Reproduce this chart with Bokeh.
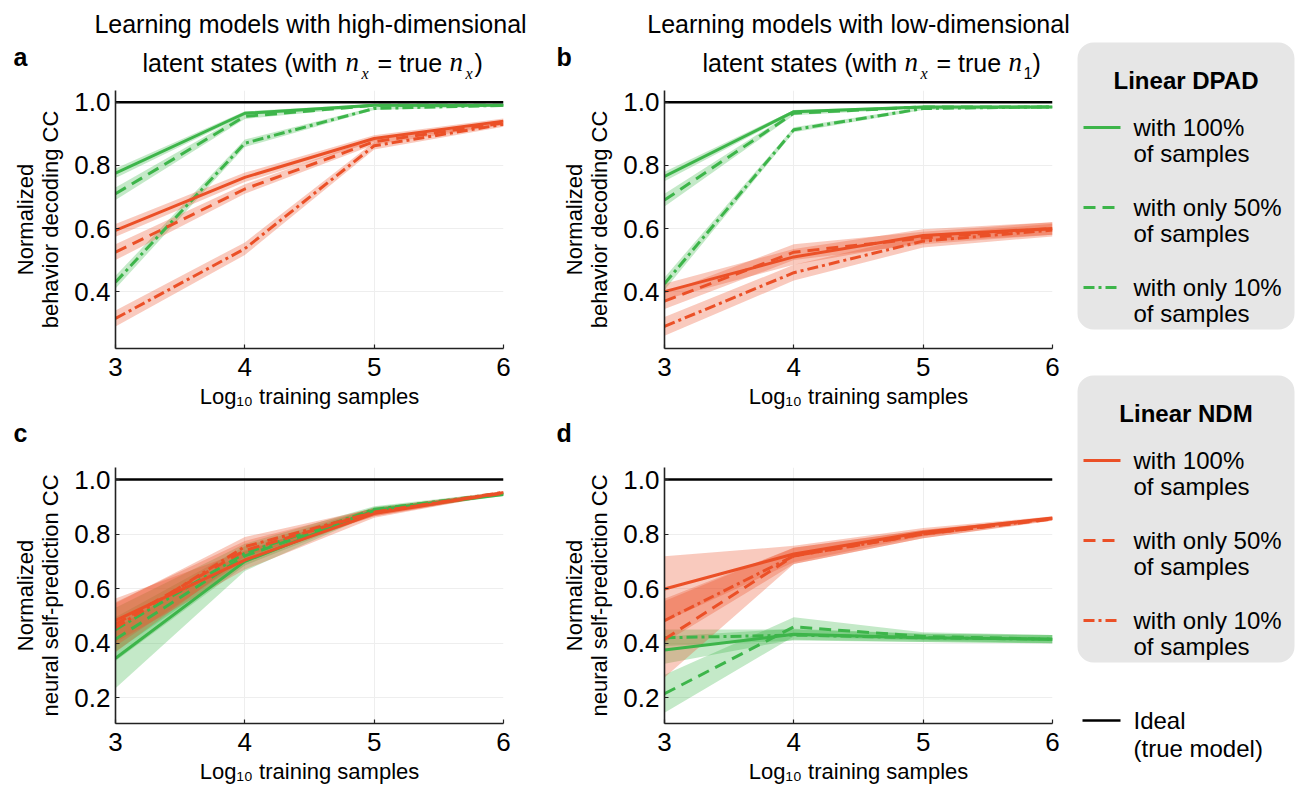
from bokeh.plotting import figure
from bokeh.layouts import row, column
from bokeh.models import Range1d, FixedTicker, NumeralTickFormatter
from bokeh.core.properties import value
from bokeh.embed import file_html
from bokeh.resources import INLINE

# ---------------- data ----------------
log10_samples = [3, 4, 5, 6]
ideal_cc = 1.0
fraction_labels = ["with 100%", "with only 50%", "with only 10%"]

# (a) behavior decoding, models with high-dimensional latent states
a_dpad_100 = [0.775, 0.965, 0.990, 0.990]
a_dpad_50 = [0.710, 0.955, 0.990, 0.990]
a_dpad_10 = [0.430, 0.870, 0.980, 0.990]
a_ndm_100 = [0.594, 0.762, 0.885, 0.940]
a_ndm_50 = [0.525, 0.725, 0.875, 0.935]
a_ndm_10 = [0.315, 0.536, 0.862, 0.930]
a_dpad_100_sem = [0.015, 0.006, 0.004, 0.004]
a_dpad_50_sem = [0.020, 0.008, 0.004, 0.004]
a_dpad_10_sem = [0.020, 0.012, 0.005, 0.004]
a_ndm_100_sem = [0.020, 0.015, 0.010, 0.008]
a_ndm_50_sem = [0.025, 0.015, 0.010, 0.008]
a_ndm_10_sem = [0.025, 0.020, 0.012, 0.008]

# (b) behavior decoding, models with low-dimensional latent states
b_dpad_100 = [0.765, 0.970, 0.985, 0.985]
b_dpad_50 = [0.690, 0.965, 0.985, 0.985]
b_dpad_10 = [0.425, 0.913, 0.980, 0.985]
b_ndm_100 = [0.400, 0.510, 0.578, 0.600]
b_ndm_50 = [0.370, 0.525, 0.570, 0.600]
b_ndm_10 = [0.290, 0.460, 0.560, 0.595]
b_dpad_100_sem = [0.015, 0.005, 0.004, 0.004]
b_dpad_50_sem = [0.020, 0.006, 0.004, 0.004]
b_dpad_10_sem = [0.020, 0.008, 0.005, 0.004]
b_ndm_100_sem = [0.025, 0.025, 0.020, 0.020]
b_ndm_50_sem = [0.025, 0.025, 0.020, 0.020]
b_ndm_10_sem = [0.030, 0.025, 0.020, 0.020]

# (c) neural self-prediction, high-dimensional latent states
c_dpad_100 = [0.345, 0.700, 0.887, 0.945]
c_dpad_50 = [0.415, 0.720, 0.885, 0.948]
c_dpad_10 = [0.450, 0.730, 0.890, 0.950]
c_ndm_100 = [0.484, 0.705, 0.875, 0.952]
c_ndm_50 = [0.470, 0.740, 0.880, 0.950]
c_ndm_10 = [0.457, 0.754, 0.880, 0.953]
c_dpad_100_sem = [0.110, 0.035, 0.012, 0.005]
c_dpad_50_sem = [0.080, 0.035, 0.012, 0.005]
c_dpad_10_sem = [0.080, 0.035, 0.012, 0.005]
c_ndm_100_sem = [0.080, 0.035, 0.015, 0.005]
c_ndm_50_sem = [0.080, 0.035, 0.015, 0.005]
c_ndm_10_sem = [0.090, 0.035, 0.015, 0.005]

# (d) neural self-prediction, low-dimensional latent states
d_dpad_100 = [0.375, 0.433, 0.420, 0.415]
d_dpad_50 = [0.215, 0.460, 0.425, 0.415]
d_dpad_10 = [0.420, 0.430, 0.420, 0.415]
d_ndm_100 = [0.599, 0.727, 0.807, 0.859]
d_ndm_50 = [0.415, 0.720, 0.800, 0.855]
d_ndm_10 = [0.483, 0.720, 0.800, 0.857]
d_dpad_100_sem = [0.050, 0.020, 0.015, 0.015]
d_dpad_50_sem = [0.070, 0.035, 0.015, 0.015]
d_dpad_10_sem = [0.030, 0.020, 0.015, 0.015]
d_ndm_100_sem = [0.120, 0.030, 0.015, 0.006]
d_ndm_50_sem = [0.140, 0.030, 0.015, 0.006]
d_ndm_10_sem = [0.080, 0.030, 0.015, 0.006]

x_ticks = [3, 4, 5, 6]
y_ticks_behavior = [0.4, 0.6, 0.8, 1.0]
y_ticks_neural = [0.2, 0.4, 0.6, 0.8, 1.0]

# ---------------- style ----------------
GREEN = "#3db54a"
RED = "#eb5027"
DASHES = ["solid", "12 7", "11 4 3 4"]
SANS = "Liberation Sans"
SERIF = "Liberation Serif"

PAGE_W, PAGE_H = 1299, 787
LEFT_W = 550
PANELS_W = 1072
RIGHT_W = PANELS_W - LEFT_W
LEG_W = PAGE_W - PANELS_W
HEAD_H = 86            # heading strip above the top panels
TOP_Y0, TOP_Y1 = HEAD_H, 418
MID_Y0, MID_Y1 = 418, 452
BOT_Y0, BOT_Y1 = 452, 787

panels = {
    "a": dict(dpad=[(a_dpad_100, a_dpad_100_sem), (a_dpad_50, a_dpad_50_sem), (a_dpad_10, a_dpad_10_sem)],
              ndm=[(a_ndm_100, a_ndm_100_sem), (a_ndm_50, a_ndm_50_sem), (a_ndm_10, a_ndm_10_sem)]),
    "b": dict(dpad=[(b_dpad_100, b_dpad_100_sem), (b_dpad_50, b_dpad_50_sem), (b_dpad_10, b_dpad_10_sem)],
              ndm=[(b_ndm_100, b_ndm_100_sem), (b_ndm_50, b_ndm_50_sem), (b_ndm_10, b_ndm_10_sem)]),
    "c": dict(dpad=[(c_dpad_100, c_dpad_100_sem), (c_dpad_50, c_dpad_50_sem), (c_dpad_10, c_dpad_10_sem)],
              ndm=[(c_ndm_100, c_ndm_100_sem), (c_ndm_50, c_ndm_50_sem), (c_ndm_10, c_ndm_10_sem)]),
    "d": dict(dpad=[(d_dpad_100, d_dpad_100_sem), (d_dpad_50, d_dpad_50_sem), (d_dpad_10, d_dpad_10_sem)],
              ndm=[(d_ndm_100, d_ndm_100_sem), (d_ndm_50, d_ndm_50_sem), (d_ndm_10, d_ndm_10_sem)]),
}

# page-space plot frames (left, right, top, bottom) and figure boxes
layout_spec = {
    "a": dict(frame=(115, 503, 90, 348), origin=(0, TOP_Y0), size=(LEFT_W, TOP_Y1 - TOP_Y0),
              yr=(0.22, 1.037), yticks=y_ticks_behavior, ylabel="Normalized\nbehavior decoding CC"),
    "b": dict(frame=(664, 1052, 90, 348), origin=(LEFT_W, TOP_Y0), size=(RIGHT_W, TOP_Y1 - TOP_Y0),
              yr=(0.22, 1.037), yticks=y_ticks_behavior, ylabel="Normalized\nbehavior decoding CC"),
    "c": dict(frame=(115, 503, 467, 723), origin=(0, BOT_Y0), size=(LEFT_W, BOT_Y1 - BOT_Y0),
              yr=(0.106, 1.044), yticks=y_ticks_neural, ylabel="Normalized\nneural self-prediction CC"),
    "d": dict(frame=(664, 1052, 467, 723), origin=(LEFT_W, BOT_Y0), size=(RIGHT_W, BOT_Y1 - BOT_Y0),
              yr=(0.106, 1.044), yticks=y_ticks_neural, ylabel="Normalized\nneural self-prediction CC"),
}

XR = (3, 6)


def make_panel(key):
    spec = layout_spec[key]
    fx0, fx1, fy0, fy1 = spec["frame"]
    ox, oy = spec["origin"]
    w, h = spec["size"]
    p = figure(width=w, height=h, output_backend="svg", toolbar_location=None,
               x_range=Range1d(*XR), y_range=Range1d(*spec["yr"]))
    p.min_border_left = fx0 - ox
    p.min_border_right = ox + w - fx1
    p.min_border_top = fy0 - oy
    p.min_border_bottom = oy + h - fy1
    p.outline_line_color = None
    p.background_fill_color = "white"
    p.border_fill_color = "white"

    for ax in (p.xaxis[0], p.yaxis[0]):
        ax.axis_line_color = "#222222"
        ax.axis_line_width = 1.6
        ax.major_tick_in = 4
        ax.major_tick_out = 0
        ax.major_tick_line_color = "#222222"
        ax.major_tick_line_width = 1.2
        ax.minor_tick_line_color = None
        ax.major_label_text_font = SANS
        ax.major_label_text_font_size = "26px"
        ax.major_label_text_color = "black"
        ax.axis_label_text_font = SANS
        ax.axis_label_text_font_size = "22px"
        ax.axis_label_text_font_style = "normal"
        ax.axis_label_text_color = "black"
    p.yaxis.axis_label_text_line_height = 1.0
    p.xaxis.ticker = FixedTicker(ticks=x_ticks)
    p.yaxis.ticker = FixedTicker(ticks=spec["yticks"])
    p.yaxis.formatter = NumeralTickFormatter(format="0.0")
    p.xaxis.axis_label = "Log\u2081\u2080 training samples"
    p.yaxis.axis_label = spec["ylabel"]
    p.xaxis.major_label_standoff = 9
    p.xaxis.axis_label_standoff = 5
    p.yaxis.major_label_standoff = 5
    p.yaxis.axis_label_standoff = 8
    p.xgrid.ticker = FixedTicker(ticks=x_ticks)
    p.ygrid.ticker = FixedTicker(ticks=spec["yticks"])
    p.grid.grid_line_color = "#eeeeee"
    p.grid.grid_line_width = 1

    groups = panels[key]
    # shaded uncertainty bands first
    for model, color in (("dpad", GREEN), ("ndm", RED)):
        for mean, sem in groups[model]:
            lo = [m - s for m, s in zip(mean, sem)]
            hi = [m + s for m, s in zip(mean, sem)]
            p.varea(x=log10_samples, y1=lo, y2=hi, fill_color=color, fill_alpha=0.3)
    # mean curves
    for model, color in (("dpad", GREEN), ("ndm", RED)):
        for (mean, _), dash in zip(groups[model], DASHES):
            p.line(log10_samples, mean, line_color=color, line_width=3, line_dash=dash)
    # ideal (true model) reference
    p.line([XR[0], XR[1]], [ideal_cc, ideal_cc], line_color="black", line_width=2.6)
    return p


def text_strip(width, y0, y1, x0=0):
    """A bare figure whose data coordinates equal page pixels (y downwards)."""
    s = figure(width=width, height=y1 - y0, output_backend="svg", toolbar_location=None,
               x_range=Range1d(x0, x0 + width), y_range=Range1d(y1, y0),
               x_axis_location=None, y_axis_location=None, min_border=0)
    s.outline_line_color = None
    s.grid.visible = False
    s.background_fill_color = "white"
    s.border_fill_color = "white"
    return s


def put(s, txt, px, py, font=SANS, size=25, style="normal", align="left"):
    """Place text with its alphabetic baseline at page pixel (px, py)."""
    ascent = 0.3375 if font == SERIF else 0.3465   # em-box middle above baseline
    s.text(x=[px], y=[py - ascent * size], text=[txt], text_font=value(font),
           text_font_size=f"{size}px", text_font_style=style, text_align=align,
           text_baseline="middle", text_color="black")


fig = {k: make_panel(k) for k in "abcd"}

# ---------------- headings strip ----------------
head = text_strip(PANELS_W, 0, HEAD_H)
put(head, "a", 13, 65, size=25, style="bold")
put(head, "b", 556, 65, size=25, style="bold")
put(head, "Learning models with high-dimensional", 310, 32, align="center")
put(head, "Learning models with low-dimensional", 858, 32, align="center")
heading_pieces = [
    ("latent states (with", 142, 71, SANS, 25, "normal"),
    ("n", 345, 71, SERIF, 27, "italic"),
    ("x", 361, 78, SERIF, 16, "italic"),
    ("= true", 377, 71, SANS, 25, "normal"),
    ("n", 449, 71, SERIF, 27, "italic"),
    ("x", 465, 78, SERIF, 16, "italic"),
    (")", 474, 71, SANS, 25, "normal"),
    ("latent states (with", 702, 71, SANS, 25, "normal"),
    ("n", 904, 71, SERIF, 27, "italic"),
    ("x", 920, 78, SERIF, 16, "italic"),
    ("= true", 936, 71, SANS, 25, "normal"),
    ("n", 1008, 71, SERIF, 27, "italic"),
    ("1", 1023, 78, SANS, 16, "normal"),
    (")", 1032, 71, SANS, 25, "normal"),
]
for txt, px, py, font, size, style in heading_pieces:
    put(head, txt, px, py, font=font, size=size, style=style)

# ---------------- strip between the rows ----------------
mid = text_strip(PANELS_W, MID_Y0, MID_Y1)
put(mid, "c", 13, 441, size=25, style="bold")
put(mid, "d", 556, 441, size=25, style="bold")

# ---------------- legend column ----------------
leg = text_strip(LEG_W, 0, PAGE_H, x0=PANELS_W)

boxes = [("Linear DPAD", GREEN, 42, 329), ("Linear NDM", RED, 375, 662)]
box_left, box_right = 1077, 1294
for title, color, top, bottom in boxes:
    leg.quad(left=box_left, right=box_right, top=top, bottom=bottom,
             fill_color="#e6e6e6", line_color=None, border_radius=16)
    put(leg, title, (box_left + box_right) / 2, top + 46, size=24, style="bold", align="center")
    for i, (lab, dash) in enumerate(zip(fraction_labels, DASHES)):
        yy = top + 85 + i * 80
        leg.line([1083, 1120], [yy, yy], line_color=color, line_width=3, line_dash=dash)
        put(leg, lab, 1133, yy + 8, size=24)
        put(leg, "of samples", 1133, yy + 34, size=24)

leg.line([1082, 1120], [720, 720], line_color="black", line_width=2.6)
put(leg, "Ideal", 1133, 728, size=24)
put(leg, "(true model)", 1133, 756, size=24)

left_block = column(head,
                    row(fig["a"], fig["b"]),
                    mid,
                    row(fig["c"], fig["d"]))
page = row(left_block, leg)

open("out.html", "w").write(file_html(page, INLINE))
